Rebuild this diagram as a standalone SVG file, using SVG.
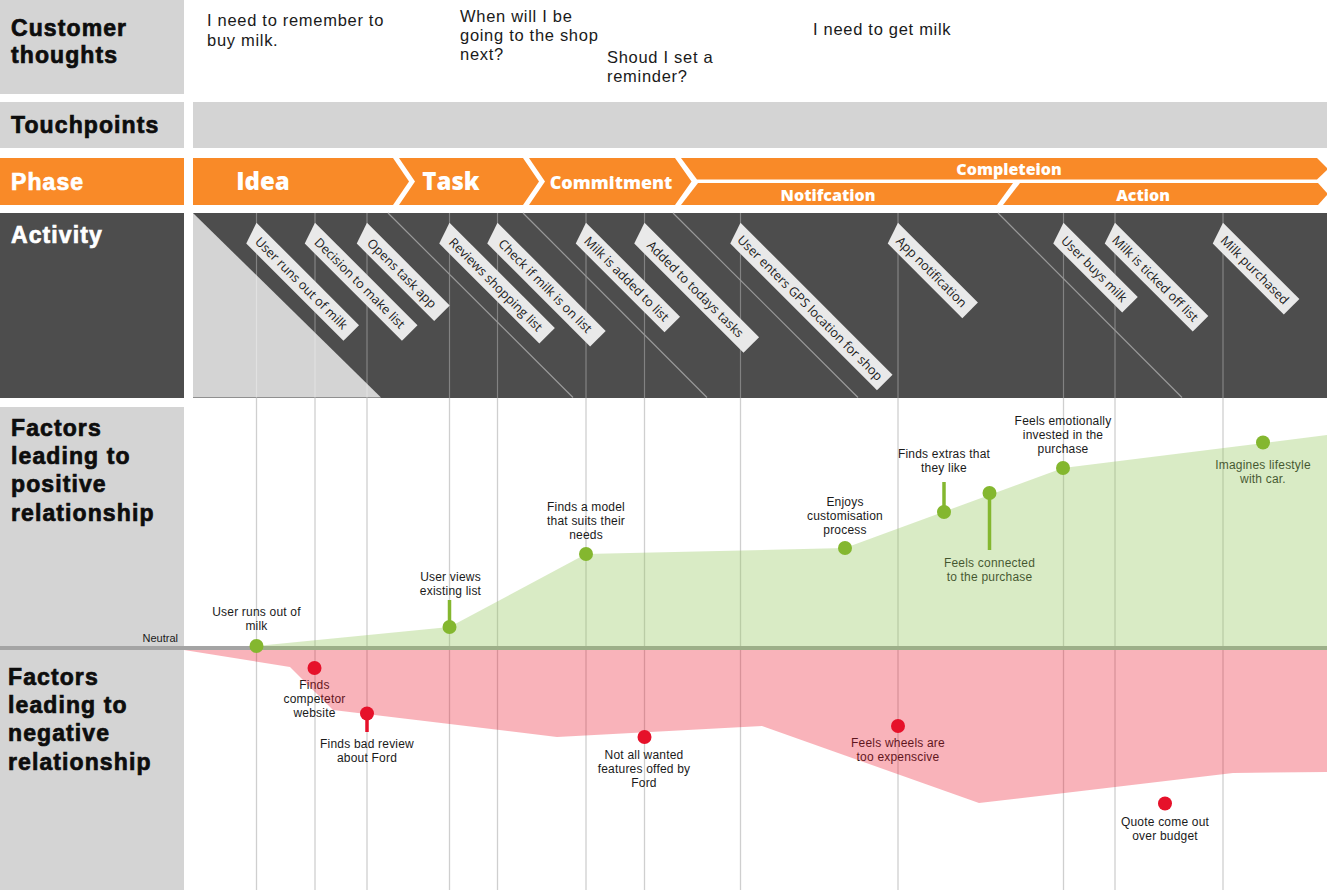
<svg xmlns="http://www.w3.org/2000/svg" width="1327" height="890" viewBox="0 0 1327 890">
<style>
.lbl{fill:#d4d4d4}
.dark{fill:#4d4d4d}
.org{fill:#f98a28}
.h{font-family:"Liberation Sans",Arial,sans-serif;font-weight:700;font-size:23px;letter-spacing:1.1px;fill:#0d0d0d;stroke:#0d0d0d;stroke-width:0.7px;paint-order:stroke}
.hw{fill:#ffffff;stroke:#ffffff}
.ph{font-family:"Open Sans","Liberation Sans",sans-serif;font-weight:800;fill:#ffffff;text-anchor:middle}
.th{font-family:"Liberation Sans",Arial,sans-serif;font-size:16.5px;letter-spacing:0.7px;fill:#1a1a1a}
.tag{fill:#e9e9e9}
.tagt{font-family:"Open Sans","Liberation Sans",sans-serif;font-size:12.7px;font-weight:500;fill:#1a1a1a;text-anchor:middle}
.vl{stroke:#ffffff;stroke-opacity:0.3;stroke-width:1.2}
.dl{stroke:#9a9a9a;stroke-width:1.2}
.gl{stroke:#cfcfcf;stroke-width:1.3}
.cl{font-family:"Liberation Sans",Arial,sans-serif;font-size:12px;letter-spacing:0.2px;fill:#1a1a1a;text-anchor:middle}
.gd{fill:#84b72f}
.rd{fill:#e6112a}
.gs{stroke:#84b72f;stroke-width:3.5}
.rs{stroke:#e6112a;stroke-width:3.5}
</style>

<g id="row-thoughts">
  <rect class="lbl" x="0" y="0" width="184" height="94"/>
  <text class="h" x="11" y="36">Customer</text>
  <text class="h" x="11" y="63">thoughts</text>
  <text class="th" x="207" y="26">I need to remember to</text>
  <text class="th" x="207" y="46">buy milk.</text>
  <text class="th" x="460" y="22">When will I be</text>
  <text class="th" x="460" y="41">going to the shop</text>
  <text class="th" x="460" y="60">next?</text>
  <text class="th" x="607" y="63">Shoud I set a</text>
  <text class="th" x="607" y="82">reminder?</text>
  <text class="th" x="813" y="35">I need to get milk</text>
</g>

<g id="row-touchpoints">
  <rect class="lbl" x="0" y="102" width="184" height="46"/>
  <rect class="lbl" x="193" y="102" width="1134" height="46"/>
  <text class="h" x="11" y="133" font-size="24">Touchpoints</text>
</g>

<g id="row-phase">
  <rect class="org" x="0" y="158" width="184" height="47"/>
  <text class="h hw" x="11" y="190" font-size="24">Phase</text>
  <g id="phase-idea">
    <path class="org" d="M193,158 H393 L409,181.5 L393,205 H193 Z"/>
    <text class="ph" x="263" y="190" font-size="24">Idea</text>
  </g>
  <g id="phase-task">
    <path class="org" d="M399,158 H523 L539,181.5 L523,205 H399 L415,181.5 Z"/>
    <text class="ph" x="451" y="190" font-size="24">Task</text>
  </g>
  <g id="phase-commitment">
    <path class="org" d="M529,158 H675 L691.5,181.5 L675,205 H529 L545,181.5 Z"/>
    <text class="ph" x="611" y="189" font-size="18">Commitment</text>
  </g>
  <g id="phase-completeion">
    <path class="org" d="M681,158 H1317 L1328,169 L1317,179.5 H697 Z"/>
    <text class="ph" x="1009" y="175" font-size="16">Completeion</text>
  </g>
  <g id="phase-notifcation">
    <path class="org" d="M698,183 H1013 L997,205 H681 Z"/>
    <text class="ph" x="828" y="201" font-size="16">Notifcation</text>
  </g>
  <g id="phase-action">
    <path class="org" d="M1020,183 H1318 L1328,194 L1318,205 H1003 Z"/>
    <text class="ph" x="1143" y="201" font-size="16">Action</text>
  </g>
</g>

<g id="row-activity">
  <rect class="dark" x="0" y="213" width="184" height="185"/>
  <text class="h hw" x="11" y="243" font-size="24">Activity</text>
  <rect class="dark" x="193" y="213" width="1134" height="185"/>
  <path fill="#d4d4d4" d="M193,213 L381,397.5 H193 Z"/>
  <g id="activity-grid">
    <line class="vl" x1="256.5" y1="213" x2="256.5" y2="398"/>
    <line class="vl" x1="315" y1="213" x2="315" y2="398"/>
    <line class="vl" x1="367" y1="213" x2="367" y2="398"/>
    <line class="vl" x1="449.5" y1="213" x2="449.5" y2="398"/>
    <line class="vl" x1="497.5" y1="213" x2="497.5" y2="398"/>
    <line class="vl" x1="586" y1="213" x2="586" y2="398"/>
    <line class="vl" x1="644.5" y1="213" x2="644.5" y2="398"/>
    <line class="vl" x1="740.5" y1="213" x2="740.5" y2="398"/>
    <line class="vl" x1="898" y1="213" x2="898" y2="398"/>
    <line class="vl" x1="1063.5" y1="213" x2="1063.5" y2="398"/>
    <line class="vl" x1="1115" y1="213" x2="1115" y2="398"/>
    <line class="vl" x1="1223" y1="213" x2="1223" y2="398"/>
    <line class="dl" x1="388" y1="213" x2="573" y2="397.5"/>
    <line class="dl" x1="523" y1="213" x2="707" y2="397.5"/>
    <line class="dl" x1="673" y1="213" x2="858" y2="397.5"/>
    <line class="dl" x1="998" y1="213" x2="1182" y2="397.5"/>
  </g>
  <g id="act-1" transform="translate(256.5,222.7) rotate(45)"><path class="tag" d="M0,0 H145 V22 H7.5 Z"/><text class="tagt" x="74.5" y="15.5">User runs out of milk</text></g>
  <g id="act-2" transform="translate(315,222.7) rotate(45)"><path class="tag" d="M0,0 H145 V22 H7.5 Z"/><text class="tagt" x="74.5" y="15.5">Decision to make list</text></g>
  <g id="act-3" transform="translate(367,222.7) rotate(45)"><path class="tag" d="M0,0 H117 V22 H7.5 Z"/><text class="tagt" x="60.5" y="15.5">Opens task app</text></g>
  <g id="act-4" transform="translate(449.5,222.7) rotate(45)"><path class="tag" d="M0,0 H149 V22 H7.5 Z"/><text class="tagt" x="76.5" y="15.5">Reviews shopping list</text></g>
  <g id="act-5" transform="translate(497.5,222.7) rotate(45)"><path class="tag" d="M0,0 H153 V22 H7.5 Z"/><text class="tagt" x="78.5" y="15.5">Check if milk is on list</text></g>
  <g id="act-6" transform="translate(586,222.7) rotate(45)"><path class="tag" d="M0,0 H133 V22 H7.5 Z"/><text class="tagt" x="68.5" y="15.5">Milk is added to list</text></g>
  <g id="act-7" transform="translate(644.5,222.7) rotate(45)"><path class="tag" d="M0,0 H162 V22 H7.5 Z"/><text class="tagt" x="83" y="15.5">Added to todays tasks</text></g>
  <g id="act-8" transform="translate(740.5,222.7) rotate(45)"><path class="tag" d="M0,0 H215 V22 H7.5 Z"/><text class="tagt" x="109.5" y="15.5">User enters GPS location for shop</text></g>
  <g id="act-9" transform="translate(898,222.7) rotate(45)"><path class="tag" d="M0,0 H113 V22 H7.5 Z"/><text class="tagt" x="58.5" y="15.5">App notification</text></g>
  <g id="act-10" transform="translate(1063.5,222.7) rotate(45)"><path class="tag" d="M0,0 H105 V22 H7.5 Z"/><text class="tagt" x="54.5" y="15.5">User buys milk</text></g>
  <g id="act-11" transform="translate(1115,222.7) rotate(45)"><path class="tag" d="M0,0 H132 V22 H7.5 Z"/><text class="tagt" x="68" y="15.5">Milk is ticked off list</text></g>
  <g id="act-12" transform="translate(1223,222.7) rotate(45)"><path class="tag" d="M0,0 H108 V22 H7.5 Z"/><text class="tagt" x="56" y="15.5">Milk purchased</text></g>
</g>

<g id="row-factors">
  <rect class="lbl" x="0" y="407" width="184" height="483"/>
  <text class="h" x="11" y="436">Factors</text>
  <text class="h" x="11" y="464">leading to</text>
  <text class="h" x="11" y="492">positive</text>
  <text class="h" x="11" y="521">relationship</text>
  <text class="h" x="8" y="685">Factors</text>
  <text class="h" x="8" y="713">leading to</text>
  <text class="h" x="8" y="741">negative</text>
  <text class="h" x="8" y="770">relationship</text>
  <text font-family="Liberation Sans, Arial, sans-serif" font-size="11" fill="#1a1a1a" text-anchor="end" x="178" y="642">Neutral</text>
</g>

<g id="chart-grid">
  <line class="gl" x1="256.5" y1="398" x2="256.5" y2="890"/>
  <line class="gl" x1="315" y1="398" x2="315" y2="890"/>
  <line class="gl" x1="367" y1="398" x2="367" y2="890"/>
  <line class="gl" x1="449.5" y1="398" x2="449.5" y2="890"/>
  <line class="gl" x1="497.5" y1="398" x2="497.5" y2="890"/>
  <line class="gl" x1="586" y1="398" x2="586" y2="890"/>
  <line class="gl" x1="644.5" y1="398" x2="644.5" y2="890"/>
  <line class="gl" x1="740.5" y1="398" x2="740.5" y2="890"/>
  <line class="gl" x1="898" y1="398" x2="898" y2="890"/>
  <line class="gl" x1="1063.5" y1="398" x2="1063.5" y2="890"/>
  <line class="gl" x1="1115" y1="398" x2="1115" y2="890"/>
  <line class="gl" x1="1223" y1="398" x2="1223" y2="890"/>
  <line x1="0" y1="648" x2="1327" y2="648" stroke="#a4a4a4" stroke-width="4"/>
</g>

<g id="chart-labels">
  <text class="cl" x="256.5" y="616">User runs out of</text>
  <text class="cl" x="256.5" y="630">milk</text>
  <text class="cl" x="450.5" y="581">User views</text>
  <text class="cl" x="450.5" y="595">existing list</text>
  <text class="cl" x="586" y="511">Finds a model</text>
  <text class="cl" x="586" y="525">that suits their</text>
  <text class="cl" x="586" y="539">needs</text>
  <text class="cl" x="845" y="506">Enjoys</text>
  <text class="cl" x="845" y="520">customisation</text>
  <text class="cl" x="845" y="534">process</text>
  <text class="cl" x="944" y="458">Finds extras that</text>
  <text class="cl" x="944" y="472">they like</text>
  <text class="cl" x="989.5" y="567">Feels connected</text>
  <text class="cl" x="989.5" y="581">to the purchase</text>
  <text class="cl" x="1063" y="425">Feels emotionally</text>
  <text class="cl" x="1063" y="439">invested in the</text>
  <text class="cl" x="1063" y="453">purchase</text>
  <text class="cl" x="1263" y="469">Imagines lifestyle</text>
  <text class="cl" x="1263" y="483">with car.</text>
  <text class="cl" x="314.5" y="689">Finds</text>
  <text class="cl" x="314.5" y="703">competetor</text>
  <text class="cl" x="314.5" y="717">website</text>
  <text class="cl" x="367" y="748">Finds bad review</text>
  <text class="cl" x="367" y="762">about Ford</text>
  <text class="cl" x="644" y="759">Not all wanted</text>
  <text class="cl" x="644" y="773">features offed by</text>
  <text class="cl" x="644" y="787">Ford</text>
  <text class="cl" x="898" y="747">Feels wheels are</text>
  <text class="cl" x="898" y="761">too expenscive</text>
  <text class="cl" x="1165" y="826">Quote come out</text>
  <text class="cl" x="1165" y="840">over budget</text>
</g>

<g id="chart-areas">
  <path id="positive-area" fill="#93c658" fill-opacity="0.35" d="M256.5,646 L449.5,627 L586,554 L845,548 L1063,468 L1327,435 V650 H256.5 Z"/>
  <path id="negative-area" fill="#ec1228" fill-opacity="0.32" d="M184,650 L290,667 L333,710 L557,737 L762,726 L979,803 L1233,773 L1327,772 V650 Z"/>
</g>

<g id="connectors">
  <line class="gs" x1="449.5" y1="600" x2="449.5" y2="627"/>
  <line class="gs" x1="944" y1="482" x2="944" y2="512"/>
  <line class="gs" x1="989.5" y1="493" x2="989.5" y2="550"/>
  <line class="rs" x1="367" y1="713" x2="367" y2="732"/>
</g>

<g id="points">
  <circle class="gd" cx="256.5" cy="646" r="7"/>
  <circle class="gd" cx="449.5" cy="627" r="7"/>
  <circle class="gd" cx="586" cy="554" r="7"/>
  <circle class="gd" cx="845" cy="548" r="7"/>
  <circle class="gd" cx="944" cy="512" r="7"/>
  <circle class="gd" cx="989.5" cy="493" r="7"/>
  <circle class="gd" cx="1063" cy="468" r="7"/>
  <circle class="gd" cx="1263" cy="442.5" r="7"/>
  <circle class="rd" cx="314.5" cy="668" r="7"/>
  <circle class="rd" cx="367" cy="713.5" r="7"/>
  <circle class="rd" cx="644.5" cy="737" r="7"/>
  <circle class="rd" cx="898" cy="726" r="7"/>
  <circle class="rd" cx="1165" cy="803.5" r="7"/>
</g>
</svg>
